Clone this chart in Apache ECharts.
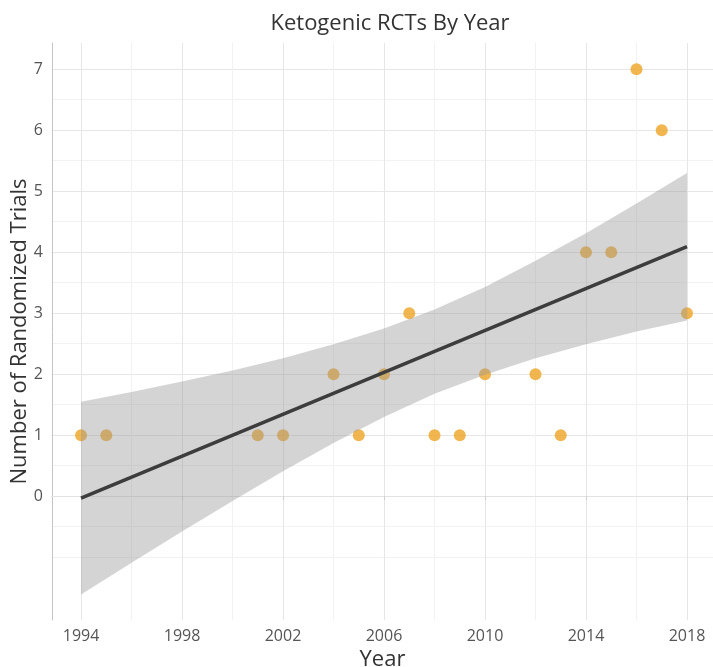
<!DOCTYPE html>
<html>
<head>
<meta charset="utf-8">
<script src="https://cdn.jsdelivr.net/npm/echarts@6.0.0/dist/echarts.min.js"></script>
<style>
  html, body { margin: 0; padding: 0; background: #fff; }
  #main { width: 713px; height: 667px; }
</style>
</head>
<body>
<div id="main"></div>
<script>
// 数据：每年的随机对照试验数
var years = [1994, 1995, 2001, 2002, 2004, 2005, 2006, 2007, 2008, 2009, 2010, 2012, 2013, 2014, 2015, 2016, 2017, 2018]
var trials = [1, 1, 1, 1, 2, 1, 2, 3, 1, 1, 2, 2, 1, 4, 4, 7, 6, 3]

// 拟合直线（两端读数）
var fitYears = [1994, 2018]
var fitValues = [-0.03, 4.09]

// 置信带
var bandYears = [1994, 1996, 1998, 2000, 2002, 2004, 2006, 2008, 2010, 2012, 2014, 2016, 2018]
var bandLower = [-1.61, -1.09, -0.58, -0.08, 0.41, 0.87, 1.30, 1.68, 1.99, 2.26, 2.49, 2.70, 2.88]
var bandUpper = [1.55, 1.71, 1.88, 2.06, 2.26, 2.49, 2.75, 3.06, 3.43, 3.86, 4.31, 4.80, 5.30]

// 刻度
var xMajor = [1994, 1998, 2002, 2006, 2010, 2014, 2018]
var xMinor = [1996, 2000, 2004, 2008, 2012, 2016]
var yMajor = [0, 1, 2, 3, 4, 5, 6, 7]
var yMinor = [-1, -0.5, 0.5, 1.5, 2.5, 3.5, 4.5, 5.5, 6.5]

var points = years.map(function (y, i) { return [y, trials[i]] })
var fitLine = fitYears.map(function (y, i) { return [y, fitValues[i]] })
var bandData = bandYears.map(function (y, i) { return [y, bandLower[i], bandUpper[i]] })

var font = '"Open Sans", "Noto Sans", sans-serif'
var xMin = 1992.85, xMax = 2019.03
var yMin = -2.03, yMax = 7.43

// 置信带多边形：上沿从左到右，下沿从右到左
function renderBand(params, api) {
  if (params.dataIndex !== 0) return
  var pts = []
  for (var i = 0; i < bandData.length; i++) {
    pts.push(api.coord([bandData[i][0], bandData[i][2]]))
  }
  for (var j = bandData.length - 1; j >= 0; j--) {
    pts.push(api.coord([bandData[j][0], bandData[j][1]]))
  }
  return {
    type: 'polygon',
    shape: { points: pts },
    style: { fill: 'rgba(153,153,153,0.42)' }
  }
}

var myChart = echarts.init(document.getElementById('main'))
myChart.setOption({
  animation: false,
  title: {
    text: 'Ketogenic RCTs By Year',
    left: 385,
    top: 8,
    textAlign: 'center',
    textStyle: { fontFamily: font, fontSize: 22, fontWeight: 'normal', color: '#333' }
  },
  grid: { left: 52, right: 0, top: 43, bottom: 47, outerBoundsMode: 'none', containLabel: false },
  xAxis: [
    {
      type: 'value',
      min: xMin,
      max: xMax,
      name: 'Year',
      nameLocation: 'middle',
      nameGap: 24,
      nameTextStyle: { fontFamily: font, fontSize: 22, color: '#333' },
      axisLine: { show: true, lineStyle: { color: '#c4c4c4', width: 1 } },
      axisTick: { show: true, length: 4, customValues: xMajor, lineStyle: { color: '#cfcfcf' } },
      axisLabel: {
        customValues: xMajor, margin: 8, fontFamily: font, fontSize: 16, color: '#555',
        formatter: function (v) { return String(v) }
      },
      splitLine: { show: true, lineStyle: { color: '#e6e6e6', width: 1 } }
    },
    {
      type: 'value',
      position: 'top',
      min: xMin,
      max: xMax,
      axisLine: { show: true, lineStyle: { color: '#e2e2e2', width: 1 } },
      axisTick: { show: false, customValues: xMinor },
      axisLabel: { show: false },
      splitLine: { show: true, lineStyle: { color: '#f2f2f2', width: 1 } }
    }
  ],
  yAxis: [
    {
      type: 'value',
      min: yMin,
      max: yMax,
      name: 'Number of Randomized Trials',
      nameLocation: 'middle',
      nameGap: 21,
      nameMoveOverlap: false,
      nameTextStyle: { fontFamily: font, fontSize: 22, color: '#333' },
      axisLine: { show: true, lineStyle: { color: '#c4c4c4', width: 1 } },
      axisTick: { show: false, customValues: yMajor },
      axisLabel: { customValues: yMajor, margin: 9, fontFamily: font, fontSize: 16, color: '#555' },
      splitLine: { show: true, lineStyle: { color: '#e6e6e6', width: 1 } }
    },
    {
      type: 'value',
      position: 'left',
      min: yMin,
      max: yMax,
      axisLine: { show: false },
      axisTick: { show: false, customValues: yMinor },
      axisLabel: { show: false },
      splitLine: { show: true, lineStyle: { color: '#f2f2f2', width: 1 } }
    }
  ],
  series: [
    {
      name: 'trials',
      type: 'scatter',
      data: points,
      symbolSize: 12,
      itemStyle: { color: '#EDA424' },
      z: 2
    },
    {
      name: 'band',
      type: 'custom',
      data: bandData,
      renderItem: renderBand,
      encode: { x: 0, y: [1, 2] },
      clip: true,
      z: 3
    },
    {
      name: 'fit',
      type: 'line',
      data: fitLine,
      symbol: 'none',
      lineStyle: { color: '#3d3d3d', width: 3.5 },
      z: 4
    }
  ]
})
</script>
</body>
</html>
